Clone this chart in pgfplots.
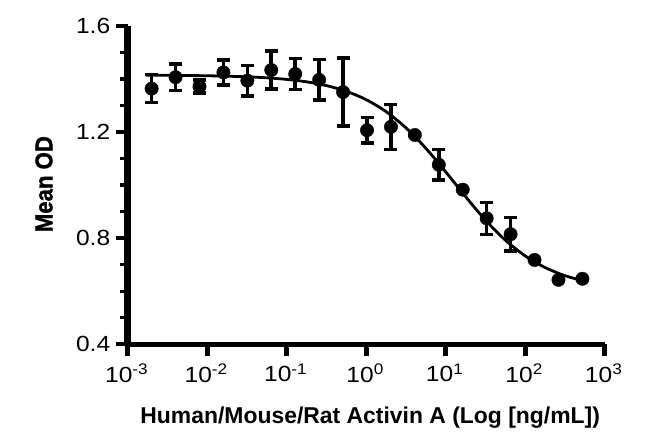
\documentclass[border=0pt]{standalone}
\usepackage{pgfplots}
\pgfplotsset{compat=1.18}
\usepackage{fontspec}
\setmainfont{Liberation Sans}
\newfontfamily\ylabfont[BoldFeatures={FakeBold=1.5}]{Liberation Sans}
\newcommand\tl[1]{\scalebox{1.12}[1]{\fontsize{22}{25}\selectfont #1}}
\newcommand\ex[1]{\tl{10\textsuperscript{#1}}}
\begin{document}
\begin{tikzpicture}
\path[use as bounding box] (0,0) rectangle (650bp,438bp);
\begin{axis}[
  at={(127.7bp,93.7bp)}, anchor=south west,
  scale only axis, width=477bp, height=318.3bp,
  xmode=log, log basis x=10,
  xmin=1e-3, xmax=1e3, ymin=0.4, ymax=1.6,
  axis x line*=bottom, axis y line*=left,
  x axis line style={line width=4.5bp, black},
  y axis line style={line width=6.5bp, black},
  tick align=outside,
  major tick length=12bp, minor tick length=7.5bp,
  major x tick style={line width=5bp, black},
  minor x tick style={line width=4bp, black},
  major y tick style={line width=4.3bp, black},
  minor y tick style={line width=3.3bp, black},
  /pgf/number format/assume math mode=true,
  xtick={1e-3,1e-2,1e-1,1e0,1e1,1e2,1e3},
  xticklabels={\ex{-3},\ex{-2},\ex{-1},\ex{0},\ex{1},\ex{2},\ex{3}},
  ytick={0.4,0.8,1.2,1.6},
  yticklabels={\tl{0.4},\tl{0.8},\tl{1.2},\tl{1.6}},
  minor y tick num=3,
  xticklabel style={yshift=-4bp, xshift=-1bp},
  yticklabel style={xshift=-2bp},
  clip=false,
  every axis x label/.style={at={(axis description cs:0.5,0)}, anchor=center, yshift=-73bp, xshift=4bp},
  every axis y label/.style={at={(axis description cs:0,0.5)}, anchor=center, xshift=-83.7bp, yshift=1bp, rotate=90},
  xlabel={\fontsize{23}{26}\selectfont\bfseries Human/Mouse/Rat Activin A (Log [ng/mL])},
  ylabel={\resizebox{96bp}{17bp}{\ylabfont\bfseries Mean OD}},
]
\addplot[black, line width=2.8bp, smooth, no marks] coordinates {
(0.00170,1.4144) (0.00316,1.4140) (0.00562,1.4133) (0.0100,1.4124) (0.0178,1.4108)
(0.0316,1.4084) (0.0562,1.4047) (0.100,1.3987) (0.178,1.3895) (0.316,1.3753)
(0.562,1.3539) (1.00,1.3222) (1.78,1.2771) (3.16,1.2161) (5.62,1.1391)
(10.0,1.0501) (17.8,0.9567) (31.6,0.8684) (56.2,0.7928) (100,0.7333)
(178,0.6895) (316,0.6588) (525,0.6402)
};
\addplot[black, only marks, mark=*, mark size=6.7bp,
  error bars/.cd, y dir=both, y explicit,
  error bar style={line width=3.6bp, black},
  error mark options={rotate=90, mark size=6.5bp, line width=3.4bp, black}]
  table[x=x, y=y, y error=e] {
x y e
0.002 1.364 0.053
0.004 1.407 0.050
0.008 1.372 0.025
0.016 1.425 0.047
0.032 1.394 0.058
0.064 1.434 0.072
0.128 1.419 0.059
0.256 1.397 0.076
0.512 1.351 0.128
1.024 1.207 0.048
2.048 1.220 0.085
4.096 1.189 0
8.192 1.077 0.057
16.384 0.983 0
32.768 0.875 0.060
65.536 0.815 0.064
131.072 0.718 0
262.144 0.643 0
524.288 0.647 0
};
\end{axis}
\end{tikzpicture}
\end{document}
